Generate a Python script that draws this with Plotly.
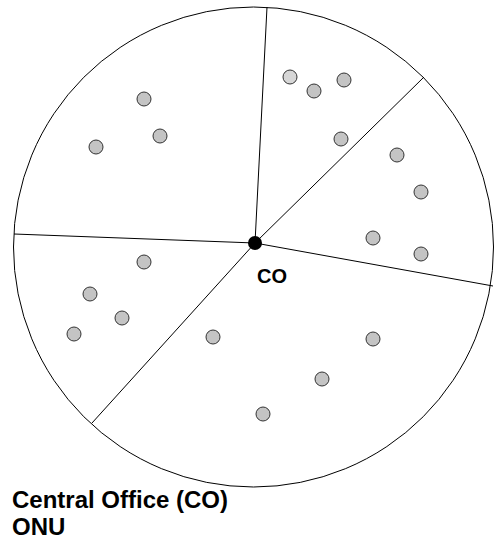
import plotly.graph_objects as go

W, H = 495, 539

# Coverage area (circle bounds)
circle_x = [13.5, 493.5]
circle_y = [7, 487]

# Central office position
co_x = [255]
co_y = [243]

# Sector boundary end points on the circle
boundary_x = [267, 424, 493, 92, 14]
boundary_y = [7, 77, 286, 423, 234]

# ONU positions
onu_x = [144, 160, 96, 290, 314, 344, 341, 397, 421, 373, 421, 144,
         90, 122, 74, 213, 373, 322, 263]
onu_y = [99, 136, 147, 77, 91, 80, 139, 155, 192, 238, 254, 262,
         294, 318, 334, 337, 339, 379, 414]

legend_labels = ["Central Office (CO)", "ONU"]

# ---- styling ----
onu_colors = ["#c4c4c4"] * len(onu_x)
onu_colors[3] = "#d6d6d6"

fig = go.Figure()

fig.add_shape(type="circle", xref="x", yref="y",
              x0=circle_x[0], x1=circle_x[1], y0=circle_y[0], y1=circle_y[1],
              line=dict(color="black", width=1), layer="below")

for bx, by in zip(boundary_x, boundary_y):
    fig.add_trace(go.Scatter(x=[co_x[0], bx], y=[co_y[0], by], mode="lines",
                             line=dict(color="black", width=1),
                             hoverinfo="skip", showlegend=False))

fig.add_trace(go.Scatter(x=onu_x, y=onu_y, mode="markers",
                         marker=dict(size=14, color=onu_colors,
                                     line=dict(color="#333333", width=1)),
                         showlegend=False))

fig.add_trace(go.Scatter(x=co_x, y=co_y, mode="markers",
                         marker=dict(size=14, color="black"),
                         showlegend=False))

fig.add_annotation(x=co_x[0] + 16.5, y=co_y[0] + 33, text="<b>CO</b>",
                   showarrow=False, xanchor="center", yanchor="middle",
                   font=dict(family="Liberation Sans, Arial", size=20, color="black"))

for i, lab in enumerate(legend_labels):
    fig.add_annotation(x=10, y=499.5 + 27 * i, text="<b>%s</b>" % lab,
                       showarrow=False, xanchor="left", yanchor="middle",
                       font=dict(family="Liberation Sans, Arial", size=24, color="black"))

fig.update_layout(width=W, height=H,
                  margin=dict(l=0, r=0, t=0, b=0),
                  paper_bgcolor="white", plot_bgcolor="white",
                  xaxis=dict(range=[0, W], visible=False, fixedrange=True),
                  yaxis=dict(range=[H, 0], visible=False, fixedrange=True),
                  showlegend=False)

fig.write_html("out.html", config={"displayModeBar": False},
               post_script="document.body.style.margin='0';document.body.style.overflow='hidden';")
